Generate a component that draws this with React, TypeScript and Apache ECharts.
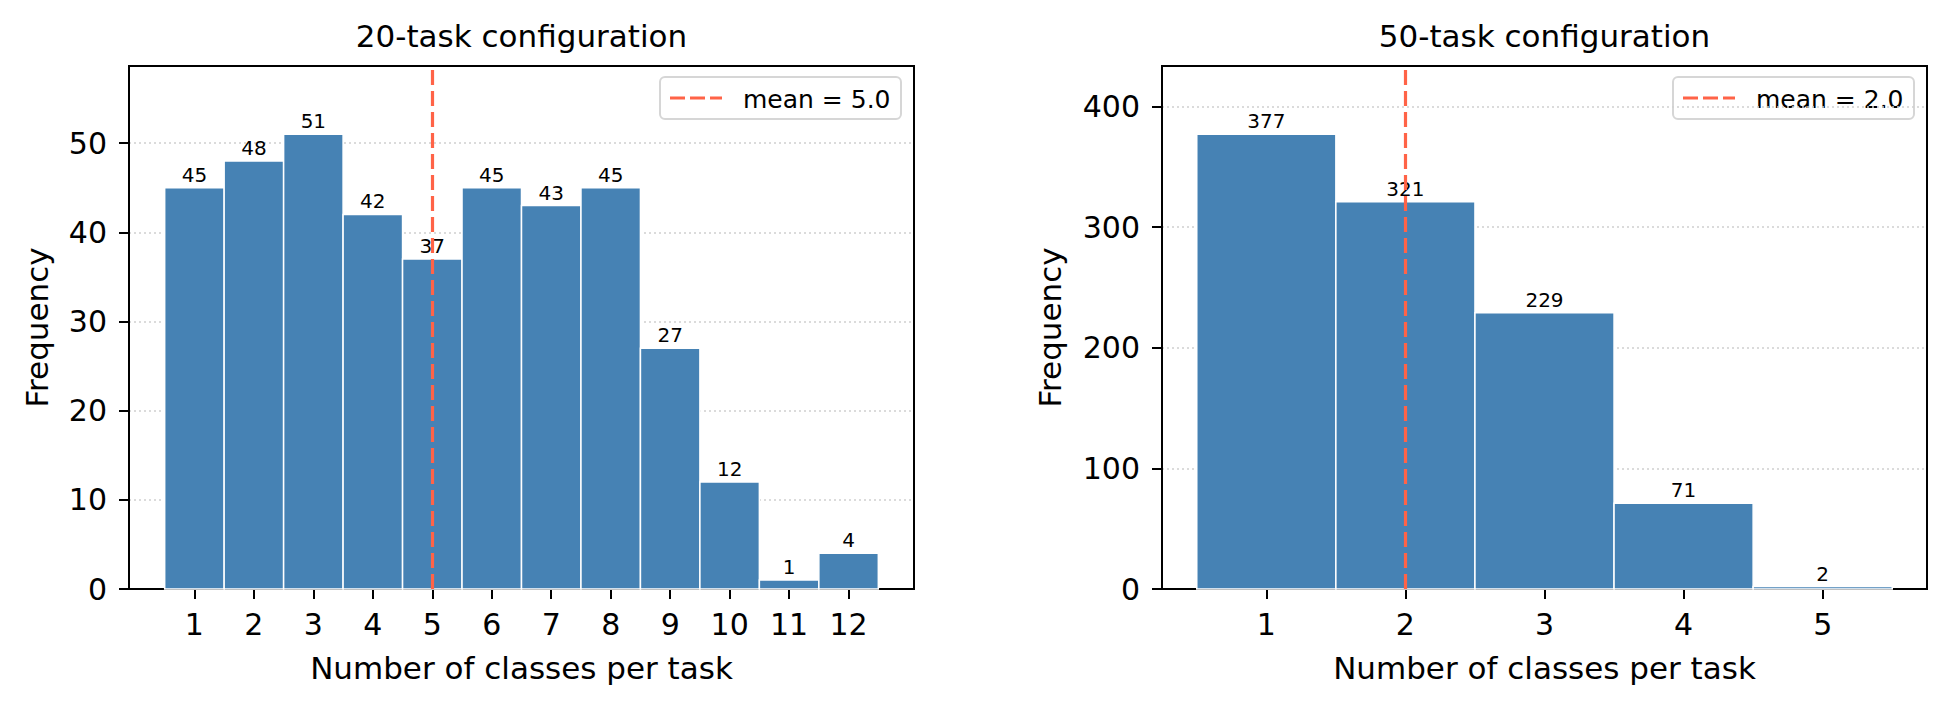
import React, { useEffect, useRef } from "react";
import * as echarts from "echarts";

const leftClasses = [1, 2, 3, 4, 5, 6, 7, 8, 9, 10, 11, 12];
const leftCounts = [45, 48, 51, 42, 37, 45, 43, 45, 27, 12, 1, 4];
const leftMean = 5.0;
const leftTicksY = [0, 10, 20, 30, 40, 50];

const rightClasses = [1, 2, 3, 4, 5];
const rightCounts = [377, 321, 229, 71, 2];
const rightMean = 2.0;
const rightTicksY = [0, 100, 200, 300, 400];

const titles = ["20-task configuration", "50-task configuration"];
const xName = "Number of classes per task";
const yName = "Frequency";

const FONT = "DejaVu Sans";
const BAR = "#4682B4";
const RED = "#FF6347";

export default function App() {
  const ref = useRef<HTMLDivElement>(null);
  useEffect(() => {
    if (!ref.current) return;
    const chart = echarts.init(ref.current, null, { renderer: "svg" });

    const grids = [
      { left: 129, top: 66, width: 785, height: 523 },
      { left: 1162, top: 66, width: 765, height: 523 },
    ];
    const panels = [
      { cls: leftClasses, cnt: leftCounts, mean: leftMean, yt: leftTicksY, nameGapY: 77 },
      { cls: rightClasses, cnt: rightCounts, mean: rightMean, yt: rightTicksY, nameGapY: 97 },
    ];

    const xAxis: any[] = [];
    const yAxis: any[] = [];
    const series: any[] = [];
    const graphic: any[] = [];
    const title: any[] = [];

    panels.forEach((p, i) => {
      const lo = Math.min(...p.cls) - 0.5;
      const hi = Math.max(...p.cls) + 0.5;
      const pad = (hi - lo) * 0.05;
      const ymax = Math.max(...p.cnt) * 1.15;
      xAxis.push({
        type: "value",
        gridIndex: i,
        min: lo - pad,
        max: hi + pad,
        name: xName,
        nameLocation: "middle",
        nameGap: 63,
        nameTextStyle: { fontSize: 31, color: "#000", fontFamily: FONT },
        axisLine: { show: true, onZero: false, lineStyle: { color: "#000", width: 2 } },
        axisTick: { show: true, length: 10, customValues: p.cls, lineStyle: { color: "#000", width: 2 } },
        axisLabel: { show: true, customValues: p.cls, margin: 20, fontSize: 30, color: "#000", fontFamily: FONT },
        splitLine: { show: false },
      });
      yAxis.push({
        type: "value",
        gridIndex: i,
        min: 0,
        max: ymax,
        name: yName,
        nameLocation: "middle",
        nameGap: p.nameGapY,
        nameTextStyle: { fontSize: 31, color: "#000", fontFamily: FONT },
        axisLine: { show: true, onZero: false, lineStyle: { color: "#000", width: 2 } },
        axisTick: { show: true, length: 10, customValues: p.yt, lineStyle: { color: "#000", width: 2 } },
        axisLabel: { show: true, customValues: p.yt, margin: 22, fontSize: 30, color: "#000", fontFamily: FONT },
        splitLine: { show: true, lineStyle: { color: "#cfcfcf", width: 1.5, type: [2, 3] } },
      });
      series.push({
        type: "custom",
        xAxisIndex: i,
        yAxisIndex: i,
        data: p.cls.map((c, k) => [c, p.cnt[k]]),
        renderItem: (params: any, api: any) => {
          const x = api.value(0);
          const y = api.value(1);
          const p0 = api.coord([x - 0.5, y]);
          const p1 = api.coord([x + 0.5, 0]);
          return {
            type: "group",
            children: [
              {
                type: "rect",
                shape: { x: p0[0], y: p0[1], width: p1[0] - p0[0], height: p1[1] - p0[1] },
                style: { fill: BAR, stroke: "#fff", lineWidth: 1.5 },
              },
              {
                type: "text",
                style: {
                  text: String(y),
                  x: (p0[0] + p1[0]) / 2,
                  y: p0[1] - 3,
                  align: "center",
                  verticalAlign: "bottom",
                  fontSize: 20,
                  fontFamily: FONT,
                  fill: "#000",
                },
              },
            ],
          };
        },
      });
      series.push({
        type: "line",
        xAxisIndex: i,
        yAxisIndex: i,
        data: [],
        markLine: {
          silent: true,
          symbol: "none",
          label: { show: false },
          lineStyle: { color: RED, width: 3.2, type: [15, 6], opacity: 1 },
          data: [{ xAxis: p.mean }],
        },
      });
      const g = grids[i];
      title.push({
        text: titles[i],
        left: g.left + g.width / 2,
        top: 20,
        textAlign: "center",
        padding: 0,
        textStyle: { fontSize: 31, fontWeight: "normal", color: "#000", fontFamily: FONT },
      });
      const lx = g.left + g.width - 254;
      const ly = 77;
      graphic.push({
        type: "group",
        z: 100,
        children: [
          {
            type: "rect",
            shape: { x: lx, y: ly, width: 241, height: 42, r: 5 },
            style: { fill: "rgba(255,255,255,0.85)", stroke: "#d6d6d6", lineWidth: 2 },
          },
          {
            type: "line",
            shape: { x1: lx + 10, y1: ly + 21, x2: lx + 62, y2: ly + 21 },
            style: { stroke: RED, lineWidth: 3.2, lineDash: [15, 5] },
          },
          {
            type: "text",
            style: {
              text: `mean = ${p.mean.toFixed(1)}`,
              x: lx + 83,
              y: ly + 22,
              verticalAlign: "middle",
              align: "left",
              fontSize: 25,
              fontFamily: FONT,
              fill: "#000",
            },
          },
        ],
      });
    });

    chart.setOption({
      animation: false,
      textStyle: { fontFamily: FONT },
      title,
      grid: grids.map((g) => ({
        ...g,
        show: true,
        borderColor: "#000",
        borderWidth: 2,
        containLabel: false,
        outerBoundsMode: "none",
      })),
      xAxis,
      yAxis,
      series,
      graphic,
    });
    return () => chart.dispose();
  }, []);
  return (
    <div
      ref={ref}
      style={{ position: "absolute", left: 0, top: 0, width: 1951, height: 709, background: "#fff" }}
    />
  );
}
